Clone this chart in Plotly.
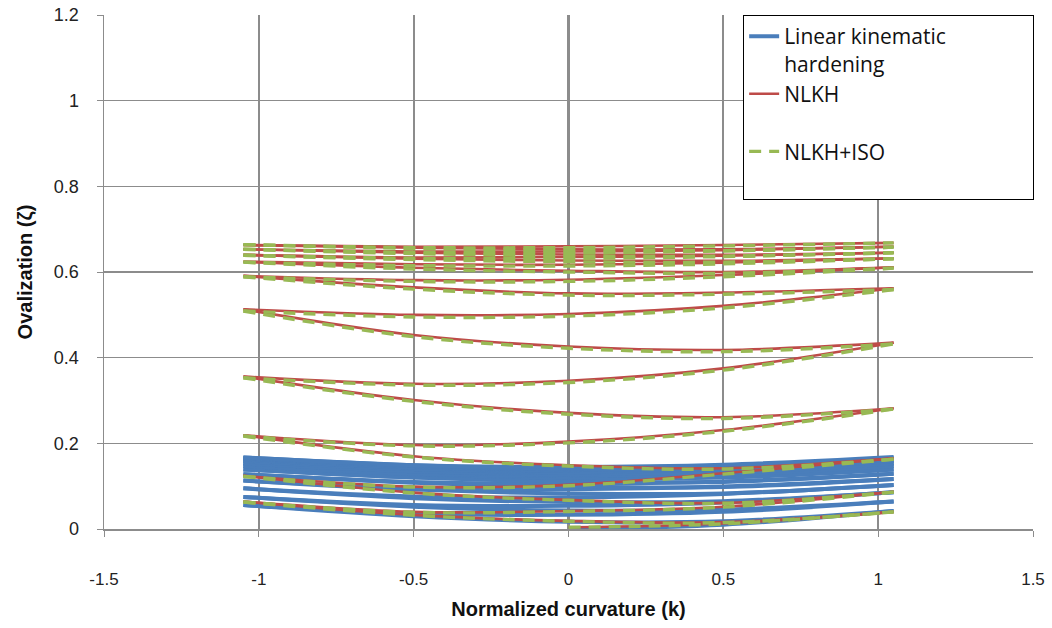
import plotly.graph_objects as go

# ---------------- data ----------------
# curvature grid of each half cycle (ascending order)
KAPPA = [-1.05, -0.5, 0.0, 0.5, 1.05]
KAPPA_START = [0.0, 0.5, 1.05]

X_TICKS = [-1.5, -1.0, -0.5, 0.0, 0.5, 1.0, 1.5]
X_TICK_TEXT = ["-1.5", "-1", "-0.5", "0", "0.5", "1", "1.5"]
Y_TICKS = [0, 0.2, 0.4, 0.6, 0.8, 1.0, 1.2]
Y_TICK_TEXT = ["0", "0.2", "0.4", "0.6", "0.8", "1", "1.2"]

# Linear kinematic hardening: first loading + half cycles (values at KAPPA)
LKH_START = [0.0, 0.010, 0.042]
LKH_CYCLES = [
    [0.056, 0.030, 0.017, 0.018, 0.042],
    [0.056, 0.036, 0.033, 0.040, 0.064],
    [0.075, 0.052, 0.043, 0.045, 0.064],
    [0.075, 0.056, 0.054, 0.062, 0.086],
    [0.095, 0.072, 0.063, 0.065, 0.086],
    [0.095, 0.076, 0.074, 0.082, 0.103],
    [0.113, 0.092, 0.083, 0.083, 0.103],
    [0.113, 0.096, 0.093, 0.099, 0.117],
    [0.128, 0.108, 0.099, 0.098, 0.117],
    [0.128, 0.110, 0.106, 0.111, 0.129],
    [0.139, 0.120, 0.111, 0.110, 0.129],
    [0.139, 0.121, 0.117, 0.122, 0.139],
    [0.147, 0.128, 0.120, 0.120, 0.139],
    [0.147, 0.129, 0.125, 0.130, 0.147],
    [0.153, 0.135, 0.127, 0.127, 0.147],
    [0.153, 0.135, 0.131, 0.136, 0.153],
    [0.158, 0.140, 0.132, 0.132, 0.153],
    [0.158, 0.140, 0.136, 0.141, 0.158],
    [0.162, 0.144, 0.136, 0.136, 0.158],
    [0.162, 0.144, 0.140, 0.145, 0.162],
    [0.165, 0.147, 0.139, 0.139, 0.162],
    [0.165, 0.147, 0.143, 0.148, 0.165],
    [0.167, 0.149, 0.141, 0.141, 0.165],
    [0.167, 0.149, 0.145, 0.150, 0.168],
]

# NLKH
NLKH_START = [0.004, 0.013, 0.040]
NLKH_CYCLES = [
    [0.064, 0.033, 0.019, 0.016, 0.040],
    [0.064, 0.040, 0.042, 0.052, 0.087],
    [0.124, 0.085, 0.068, 0.061, 0.087],
    [0.124, 0.099, 0.103, 0.130, 0.165],
    [0.219, 0.170, 0.149, 0.142, 0.165],
    [0.219, 0.196, 0.204, 0.231, 0.282],
    [0.356, 0.301, 0.271, 0.261, 0.282],
    [0.356, 0.339, 0.346, 0.375, 0.435],
    [0.513, 0.453, 0.426, 0.418, 0.435],
    [0.513, 0.500, 0.502, 0.521, 0.562],
    [0.591, 0.564, 0.550, 0.552, 0.562],
    [0.591, 0.581, 0.582, 0.593, 0.611],
    [0.624, 0.610, 0.603, 0.600, 0.611],
    [0.624, 0.618, 0.617, 0.622, 0.632],
    [0.640, 0.631, 0.627, 0.626, 0.632],
    [0.640, 0.634, 0.635, 0.638, 0.645],
    [0.653, 0.645, 0.641, 0.640, 0.645],
    [0.653, 0.648, 0.648, 0.651, 0.659],
    [0.663, 0.657, 0.653, 0.653, 0.659],
    [0.663, 0.659, 0.660, 0.663, 0.668],
]

# NLKH + isotropic hardening
ISO_START = [0.004, 0.012, 0.040]
ISO_CYCLES = [
    [0.063, 0.032, 0.018, 0.015, 0.040],
    [0.063, 0.039, 0.041, 0.051, 0.086],
    [0.123, 0.084, 0.067, 0.060, 0.086],
    [0.123, 0.098, 0.101, 0.128, 0.163],
    [0.217, 0.168, 0.147, 0.140, 0.163],
    [0.217, 0.194, 0.201, 0.228, 0.280],
    [0.353, 0.298, 0.268, 0.258, 0.280],
    [0.353, 0.336, 0.342, 0.371, 0.432],
    [0.509, 0.449, 0.422, 0.414, 0.432],
    [0.509, 0.495, 0.497, 0.516, 0.559],
    [0.589, 0.560, 0.546, 0.548, 0.559],
    [0.589, 0.578, 0.578, 0.589, 0.609],
    [0.623, 0.607, 0.600, 0.597, 0.609],
    [0.623, 0.615, 0.614, 0.619, 0.631],
    [0.639, 0.629, 0.624, 0.623, 0.631],
    [0.639, 0.632, 0.632, 0.636, 0.645],
    [0.653, 0.643, 0.638, 0.637, 0.645],
    [0.653, 0.646, 0.645, 0.649, 0.658],
    [0.664, 0.655, 0.651, 0.650, 0.658],
    [0.664, 0.657, 0.657, 0.661, 0.668],
]

BLUE = "#4A7EBB"
RED = "#BE4B48"
GREEN = "#98B954"

PAD = "&nbsp;" * 15

fig = go.Figure()


def add_series(name, start, cycles, color, width, dash):
    line = dict(color=color, width=width, dash=dash, shape="spline", smoothing=1.0)
    fig.add_trace(go.Scatter(x=KAPPA_START, y=start, mode="lines", line=line,
                             name=name, legendgroup=name, showlegend=True,
                             hoverinfo="skip"))
    for vals in cycles:
        fig.add_trace(go.Scatter(x=KAPPA, y=vals, mode="lines", line=line,
                                 name=name, legendgroup=name, showlegend=False,
                                 hoverinfo="skip"))


add_series("Linear kinematic" + PAD + "<br>hardening", LKH_START, LKH_CYCLES, BLUE, 4, "solid")
add_series("NLKH<br>&nbsp;", NLKH_START, NLKH_CYCLES, RED, 2.6, "solid")
add_series("NLKH+ISO<br>&nbsp;", ISO_START, ISO_CYCLES, GREEN, 3.4, "12px,8px")

fig.update_layout(
    width=1052, height=628,
    margin=dict(l=104, r=19, t=15, b=99, autoexpand=False),
    paper_bgcolor="white", plot_bgcolor="white",
    font=dict(family="Liberation Sans, Arial, sans-serif", color="#222"),
    showlegend=True,
    legend=dict(x=0.688, y=1.0, xanchor="left", yanchor="top",
                bgcolor="white", bordercolor="black", borderwidth=1,
                font=dict(size=21, family="Open Sans, sans-serif", color="#111"),
                valign="top", tracegroupgap=0),
)

fig.update_xaxes(
    range=[-1.5, 1.5], tickvals=X_TICKS, ticktext=X_TICK_TEXT,
    automargin=False, ticklabeloverflow="allow",
    showgrid=True, gridcolor="#8C8C8C", gridwidth=2.2,
    showline=True, linecolor="#8C8C8C", linewidth=1.5,
    ticks="outside", ticklen=6, tickcolor="#8C8C8C",
    tickfont=dict(size=17, color="#222"), ticklabelstandoff=28,
    zeroline=False,
    title=dict(text="<b>Normalized curvature (k)</b>", font=dict(size=20, color="#111"),
               standoff=14),
)
fig.update_yaxes(
    range=[0, 1.2], tickvals=Y_TICKS, ticktext=Y_TICK_TEXT,
    automargin=False, ticklabeloverflow="allow",
    showgrid=True, gridcolor="#8C8C8C", gridwidth=1.5,
    showline=True, linecolor="#8C8C8C", linewidth=1.5,
    ticks="outside", ticklen=6, tickcolor="#8C8C8C",
    tickfont=dict(size=18, color="#222"), ticklabelstandoff=14,
    zeroline=False,
    title=dict(text="<b>Ovalization (ζ)</b>", font=dict(size=20, color="#111"),
               standoff=16),
)

# remove the default 8px page margin so the figure fills the window exactly
fig.write_html("out.html",
               config={"displayModeBar": False, "staticPlot": True},
               post_script="document.body.style.margin='0';document.body.style.overflow='hidden';")
